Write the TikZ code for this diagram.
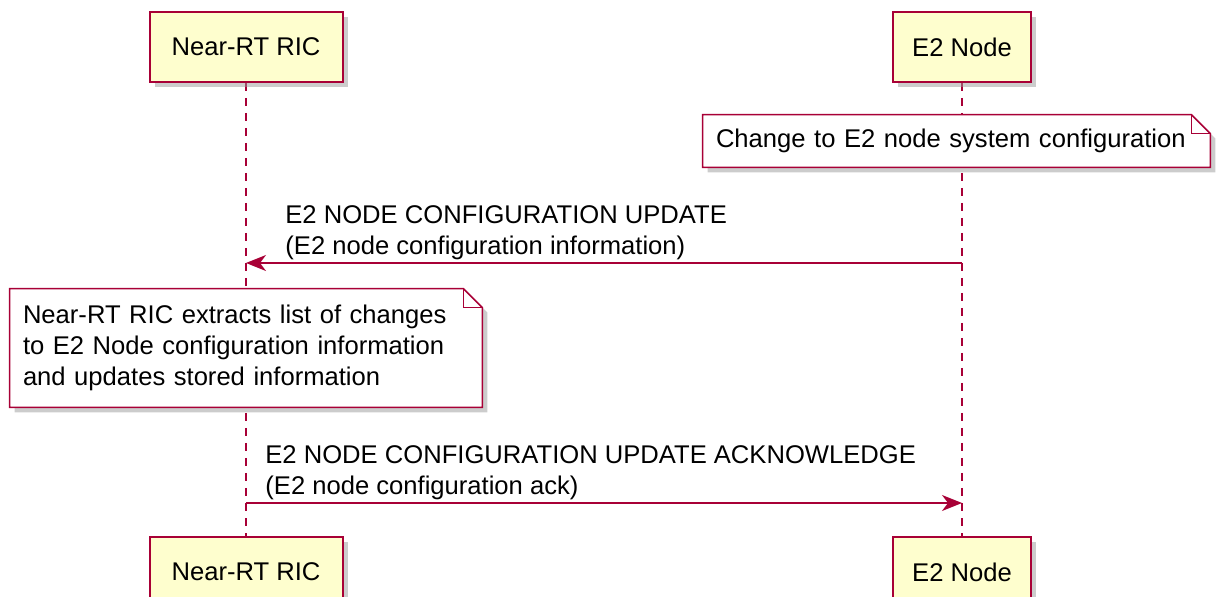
\documentclass[tikz,border=0pt]{standalone}
\usepackage{fontspec}
\setmainfont{Liberation Sans}
\usetikzlibrary{arrows.meta, shadows, backgrounds}
\definecolor{umlred}{HTML}{A80036}
\definecolor{umlfill}{HTML}{FEFECE}
\newcommand{\umltext}{\fontsize{12.8}{15.5}\selectfont}
% outline of a note with a folded corner, round an empty-framed node
\newcommand{\umlnote}[1]{%
  \filldraw[notebox] (#1.south west) -- (#1.north west) -- ([xshift=-9.5pt]#1.north east)
    -- ([yshift=-9.5pt]#1.north east) -- (#1.south east) -- cycle;
  \draw[notefold] ([xshift=-9.5pt]#1.north east) -- ([xshift=-9.5pt, yshift=-9.5pt]#1.north east)
    -- ([yshift=-9.5pt]#1.north east);
}
\tikzset{
  actor/.style={draw=umlred, line width=1pt, fill=umlfill, minimum height=35pt, font=\umltext,
    drop shadow={shadow xshift=2.5pt, shadow yshift=-2.5pt, fill=black!40, opacity=0.5}},
  lifeline/.style={umlred, line width=0.9pt, dash pattern=on 4pt off 3.5pt},
  msg/.style={umlred, line width=0.9pt, -{Stealth[length=10pt, width=8pt, inset=3pt]}},
  msgtext/.style={anchor=south west, inner sep=0pt, align=left, font=\umltext},
  notetext/.style={align=left, inner xsep=6.5pt, inner ysep=0pt, font=\umltext},
  notebox/.style={draw=umlred, line width=0.8pt, fill=white,
    drop shadow={shadow xshift=2.5pt, shadow yshift=-2.5pt, fill=black!40, opacity=0.5}},
  notefold/.style={umlred, line width=0.8pt, line join=miter}
}

\begin{document}
\begin{tikzpicture}[x=0.5pt, y=-0.5pt]
    \useasboundingbox (0, 0) rectangle (1218, 597);
    \clip (0, 0) rectangle (1218, 597);

    % participants
    \node[actor, minimum width=96.5pt] (ricTop) at (246, 47) {Near-RT RIC};
    \node[actor, minimum width=69pt] (e2Top) at (962, 47) {E2 Node};
    \node[actor, minimum width=96.5pt] (ricBot) at (246, 572) {Near-RT RIC};
    \node[actor, minimum width=69pt] (e2Bot) at (962, 572) {E2 Node};

    % notes
    \node[notetext, minimum width=253.5pt, minimum height=26pt, text width=240.5pt] (noteChange) at (956.5, 141)
        {Change to E2 node system configuration};
    \node[notetext, minimum width=236pt, minimum height=59pt, text width=223pt] (noteExtract) at (246, 348)
        {Near-RT RIC extracts list of changes\\to E2 Node configuration information\\and updates stored information};

    \begin{scope}[on background layer]
        \draw[lifeline] (ricTop) -- (ricBot);
        \draw[lifeline] (e2Top) -- (e2Bot);
        \umlnote{noteChange}
        \umlnote{noteExtract}
    \end{scope}

    % messages
    \coordinate (updFrom) at (962, 263);
    \coordinate (updTo) at (246, 263);
    \draw[msg] (updFrom) -- (updTo);
    \node[msgtext] (updLabel) at (285, 260)
        {E2 NODE CONFIGURATION UPDATE\\(E2 node configuration information)};

    \coordinate (ackFrom) at (246, 503);
    \coordinate (ackTo) at (962, 503);
    \draw[msg] (ackFrom) -- (ackTo);
    \node[msgtext] (ackLabel) at (265, 500)
        {E2 NODE CONFIGURATION UPDATE ACKNOWLEDGE\\(E2 node configuration ack)};
\end{tikzpicture}
\end{document}
